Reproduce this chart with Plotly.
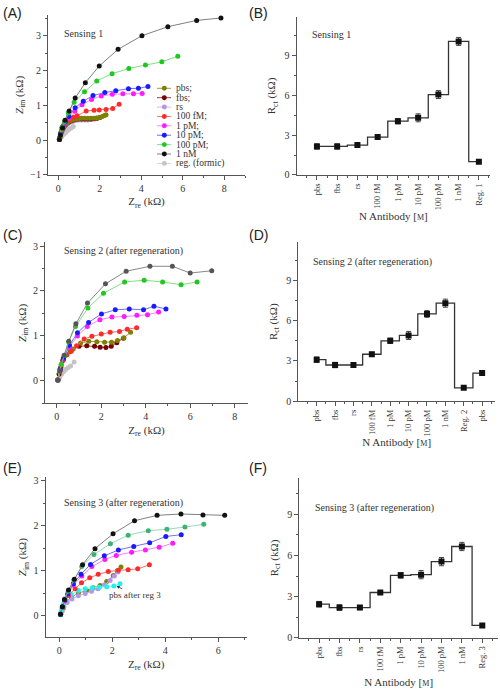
import plotly.graph_objects as go

# ---------------- DATA ----------------
# Panel A (Sensing 1) Nyquist
a_reg_re = [0.05, 0.1, 0.15, 0.2, 0.27, 0.35, 0.43, 0.52, 0.62, 0.72]
a_reg_im = [0.02, 0.06, 0.1, 0.14, 0.18, 0.22, 0.27, 0.31, 0.35, 0.39]
a_rs_re = [0.05, 0.07, 0.1, 0.13, 0.17, 0.22, 0.28, 0.35, 0.43, 0.52, 0.62, 0.73, 0.85, 0.98, 1.12, 1.27, 1.42, 1.57, 1.72, 1.86]
a_rs_im = [0.02, 0.07, 0.13, 0.19, 0.25, 0.31, 0.37, 0.42, 0.46, 0.5, 0.53, 0.55, 0.57, 0.58, 0.58, 0.58, 0.58, 0.59, 0.6, 0.62]
a_fbs_re = [0.05, 0.07, 0.1, 0.13, 0.17, 0.22, 0.28, 0.35, 0.43, 0.52, 0.62, 0.73, 0.85, 0.98, 1.12, 1.27, 1.42, 1.57, 1.72, 1.86, 2.0]
a_fbs_im = [0.02, 0.08, 0.15, 0.22, 0.28, 0.34, 0.4, 0.45, 0.49, 0.53, 0.56, 0.58, 0.6, 0.61, 0.61, 0.61, 0.61, 0.61, 0.62, 0.63, 0.65]
a_pbs_re = [0.05, 0.07, 0.1, 0.13, 0.17, 0.22, 0.28, 0.35, 0.43, 0.52, 0.62, 0.73, 0.85, 0.98, 1.12, 1.27, 1.42, 1.57, 1.72, 1.86, 2.0, 2.12, 2.22, 2.3]
a_pbs_im = [0.02, 0.08, 0.15, 0.22, 0.29, 0.35, 0.41, 0.46, 0.5, 0.54, 0.57, 0.59, 0.61, 0.62, 0.63, 0.63, 0.63, 0.63, 0.63, 0.64, 0.65, 0.68, 0.71, 0.73]
a_100fM_re = [0.05, 0.1, 0.24, 0.48, 0.72, 0.9, 1.34, 1.72, 1.97, 2.3, 2.62, 2.93]
a_100fM_im = [0.02, 0.15, 0.42, 0.57, 0.66, 0.7, 0.84, 0.86, 0.87, 0.88, 0.91, 1.03]
a_1pM_re = [0.05, 0.1, 0.22, 0.34, 0.48, 0.79, 1.14, 1.6, 2.07, 2.6, 3.11, 3.62, 4.04]
a_1pM_im = [0.03, 0.17, 0.38, 0.5, 0.62, 0.83, 1.02, 1.17, 1.27, 1.32, 1.33, 1.33, 1.34]
a_10pM_re = [0.05, 0.1, 0.2, 0.34, 0.5, 0.81, 1.2, 1.67, 2.24, 2.77, 3.38, 3.86, 4.32]
a_10pM_im = [0.03, 0.18, 0.38, 0.52, 0.68, 0.93, 1.12, 1.28, 1.37, 1.42, 1.48, 1.49, 1.54]
a_100pM_re = [0.05, 0.1, 0.16, 0.29, 0.48, 0.76, 1.26, 1.85, 2.59, 3.4, 4.2, 4.99, 5.76]
a_100pM_im = [0.03, 0.15, 0.36, 0.52, 0.78, 1.09, 1.39, 1.7, 1.91, 2.06, 2.16, 2.25, 2.41]
a_1nM_re = [0.05, 0.1, 0.2, 0.32, 0.52, 0.81, 1.3, 1.97, 2.88, 4.03, 5.28, 6.67, 7.84]
a_1nM_im = [0.02, 0.15, 0.35, 0.57, 0.84, 1.21, 1.65, 2.13, 2.61, 3.0, 3.26, 3.44, 3.51]

# Panel C (Sensing 2) Nyquist
c_reg_re = [0.05, 0.1, 0.15, 0.22, 0.3, 0.4, 0.5, 0.62, 0.78]
c_reg_im = [0.02, 0.06, 0.1, 0.15, 0.2, 0.25, 0.29, 0.33, 0.42]
c_pbs_re = [0.05, 0.12, 0.2, 0.3, 0.45, 0.6, 0.74, 1.07, 1.44, 1.8, 2.15, 2.46, 2.73, 3.02, 3.32]
c_pbs_im = [0.02, 0.2, 0.35, 0.48, 0.58, 0.65, 0.71, 0.84, 0.88, 0.87, 0.86, 0.86, 0.9, 0.96, 1.08]
c_fbs_re = [0.05, 0.1, 0.18, 0.27, 0.39, 0.63, 1.0, 1.35, 1.7, 1.95, 2.21, 2.45, 2.7, 3.0]
c_fbs_im = [0.02, 0.15, 0.3, 0.45, 0.57, 0.67, 0.77, 0.78, 0.77, 0.75, 0.74, 0.77, 0.85, 0.95]
c_100fM_re = [0.05, 0.15, 0.3, 0.45, 0.65, 0.89, 1.23, 1.58, 2.0, 2.4, 2.82, 3.17, 3.59]
c_100fM_im = [0.02, 0.25, 0.47, 0.58, 0.66, 0.78, 0.93, 0.99, 1.04, 1.08, 1.1, 1.15, 1.18]
c_1pM_re = [0.05, 0.15, 0.3, 0.56, 0.93, 1.37, 1.94, 2.48, 3.03, 3.6, 4.08, 4.58]
c_1pM_im = [0.02, 0.25, 0.5, 0.75, 1.0, 1.21, 1.36, 1.42, 1.43, 1.46, 1.47, 1.53]
c_10pM_re = [0.05, 0.15, 0.3, 0.57, 0.93, 1.43, 2.01, 2.63, 3.26, 3.9, 4.37, 4.91]
c_10pM_im = [0.02, 0.25, 0.5, 0.79, 1.07, 1.3, 1.49, 1.58, 1.6, 1.58, 1.66, 1.6]
c_100pM_re = [0.05, 0.12, 0.2, 0.35, 0.53, 0.84, 1.4, 2.1, 3.05, 3.93, 4.76, 5.59, 6.31]
c_100pM_im = [0.02, 0.22, 0.37, 0.57, 0.87, 1.21, 1.62, 1.95, 2.2, 2.24, 2.2, 2.14, 2.2]
c_1nM_re = [0.05, 0.15, 0.33, 0.54, 0.86, 1.38, 2.19, 3.12, 4.19, 5.2, 6.0, 6.97]
c_1nM_im = [0.02, 0.22, 0.57, 0.88, 1.27, 1.73, 2.16, 2.44, 2.55, 2.55, 2.4, 2.45]

# Panel E (Sensing 3) Nyquist
e_pbs_re = [0.05, 0.1, 0.16, 0.26, 0.45, 0.72, 1.03, 1.28, 1.54, 1.79, 2.04, 2.19, 2.33]
e_pbs_im = [0.03, 0.1, 0.17, 0.3, 0.41, 0.5, 0.56, 0.62, 0.67, 0.76, 0.89, 1.0, 1.08]
e_rs_re = [0.05, 0.1, 0.18, 0.3, 0.48, 0.72, 0.98, 1.22, 1.46, 1.7, 1.92, 2.08, 2.22]
e_rs_im = [0.03, 0.1, 0.2, 0.29, 0.37, 0.44, 0.49, 0.54, 0.6, 0.68, 0.78, 0.88, 0.97]
e_pbs2_re = [0.05, 0.07, 0.1, 0.15, 0.25, 0.45, 0.72, 0.98, 1.25, 1.51, 1.79, 2.06, 2.29]
e_pbs2_im = [0.02, 0.08, 0.16, 0.25, 0.35, 0.47, 0.56, 0.6, 0.62, 0.63, 0.64, 0.66, 0.71]
e_100fM_re = [0.05, 0.12, 0.22, 0.35, 0.6, 0.84, 1.15, 1.47, 1.85, 2.23, 2.6, 2.96, 3.4]
e_100fM_im = [0.03, 0.18, 0.33, 0.45, 0.6, 0.73, 0.84, 0.92, 0.98, 1.01, 1.02, 1.04, 1.13]
e_1pM_re = [0.05, 0.12, 0.2, 0.33, 0.54, 0.85, 1.23, 1.72, 2.15, 2.73, 3.25, 3.77, 4.28]
e_1pM_im = [0.03, 0.2, 0.34, 0.48, 0.68, 0.88, 1.09, 1.25, 1.34, 1.41, 1.46, 1.52, 1.61]
e_10pM_re = [0.05, 0.12, 0.2, 0.32, 0.53, 0.82, 1.18, 1.7, 2.23, 2.81, 3.41, 4.02, 4.6]
e_10pM_im = [0.03, 0.2, 0.35, 0.48, 0.71, 0.92, 1.14, 1.33, 1.46, 1.54, 1.62, 1.76, 1.8]
e_100pM_re = [0.05, 0.12, 0.2, 0.34, 0.55, 0.85, 1.31, 1.93, 2.6, 3.36, 4.06, 4.74, 5.45]
e_100pM_im = [0.03, 0.2, 0.37, 0.54, 0.79, 1.09, 1.36, 1.6, 1.79, 1.89, 1.92, 1.97, 2.03]
e_1nM_re = [0.05, 0.12, 0.2, 0.35, 0.57, 0.88, 1.35, 2.03, 2.84, 3.69, 4.59, 5.42, 6.24]
e_1nM_im = [0.03, 0.2, 0.36, 0.57, 0.81, 1.13, 1.49, 1.82, 2.11, 2.23, 2.26, 2.24, 2.23]

# Rct step panels
b_labels = ["pbs", "fbs", "rs", "100 fM", "1 pM", "10 pM", "100 pM", "1 nM", "Reg. 1"]
b_rct = [2.15, 2.15, 2.25, 2.85, 4.05, 4.3, 6.05, 10.05, 1.0]
b_err = [0.2, 0.2, 0.15, 0.15, 0.2, 0.3, 0.3, 0.3, 0.05]
d_labels = ["pbs", "fbs", "rs", "100 fM", "1 pM", "10 pM", "100 pM", "1 nM", "Reg. 2", "pbs"]
d_rct = [3.1, 2.7, 2.7, 3.5, 4.5, 4.9, 6.5, 7.3, 1.0, 2.1]
d_err = [0.2, 0.2, 0.1, 0.15, 0.2, 0.3, 0.25, 0.3, 0.05, 0.1]
f_labels = ["pbs", "fbs", "rs", "100 fM", "1 pM", "10 pM", "100 pM", "1 nM", "Reg. 3"]
f_rct = [2.45, 2.2, 2.2, 3.3, 4.55, 4.6, 5.55, 6.65, 0.9]
f_err = [0.2, 0.2, 0.15, 0.1, 0.2, 0.3, 0.3, 0.3, 0.05]

legend_names = ["pbs;", "fbs;", "rs", "100 fM;", "1 pM;", "10 pM;", "100 pM;", "1 nM", "reg. (formic)"]

# ---------------- STYLE ----------------
COL = {
    "pbs": ("#808000", "#9a9a40"), "fbs": ("#7a0000", "#a04040"), "rs": ("#b497e6", "#cbb7ee"),
    "100fM": ("#ff2a2a", "#ff7070"), "1pM": ("#ff1aff", "#ff80ff"), "10pM": ("#1a1aff", "#7070ff"),
    "100pM": ("#1ec81e", "#80e080"), "1nM": ("#111111", "#808080"), "reg": ("#c4c4c4", "#d8d8d8"),
    "1nMc": ("#555555", "#888888"), "100pMe": ("#3cb371", "#9bd9b5"), "cyan": ("#22f0f0", "#8ff5f5"),
}
FONT = "Liberation Serif"
W, H = 500, 689

fig = go.Figure()


def nyq(xs, ys, key, ax, size=5):
    mc, lc = COL[key]
    fig.add_trace(go.Scatter(x=xs, y=ys, mode="lines+markers", xaxis="x" + ax, yaxis="y" + ax,
                             line=dict(color=lc, width=1), marker=dict(color=mc, size=size),
                             showlegend=False, hoverinfo="skip"))


for xs, ys, k in [(a_reg_re, a_reg_im, "reg"), (a_rs_re, a_rs_im, "rs"), (a_fbs_re, a_fbs_im, "fbs"),
                  (a_pbs_re, a_pbs_im, "pbs"), (a_100fM_re, a_100fM_im, "100fM"), (a_1pM_re, a_1pM_im, "1pM"),
                  (a_10pM_re, a_10pM_im, "10pM"), (a_100pM_re, a_100pM_im, "100pM"), (a_1nM_re, a_1nM_im, "1nM")]:
    nyq(xs, ys, k, "")
for xs, ys, k in [(c_reg_re, c_reg_im, "reg"), (c_fbs_re, c_fbs_im, "fbs"), (c_pbs_re, c_pbs_im, "pbs"),
                  (c_100fM_re, c_100fM_im, "100fM"), (c_1pM_re, c_1pM_im, "1pM"), (c_10pM_re, c_10pM_im, "10pM"),
                  (c_100pM_re, c_100pM_im, "100pM"), (c_1nM_re, c_1nM_im, "1nMc")]:
    nyq(xs, ys, k, "3")
for xs, ys, k in [(e_pbs_re, e_pbs_im, "pbs"), (e_rs_re, e_rs_im, "rs"), (e_pbs2_re, e_pbs2_im, "cyan"),
                  (e_100fM_re, e_100fM_im, "100fM"), (e_1pM_re, e_1pM_im, "1pM"), (e_10pM_re, e_10pM_im, "10pM"),
                  (e_100pM_re, e_100pM_im, "100pMe"), (e_1nM_re, e_1nM_im, "1nM")]:
    nyq(xs, ys, k, "5")


def rct(vals, errs, ax):
    fig.add_trace(go.Scatter(x=list(range(len(vals))), y=vals, mode="lines+markers",
                             xaxis="x" + ax, yaxis="y" + ax,
                             line=dict(color="#333333", width=1.3, shape="hvh"),
                             marker=dict(color="#111111", size=6, symbol="square"),
                             error_y=dict(type="data", array=errs, color="#444444", thickness=1, width=2.5),
                             showlegend=False, hoverinfo="skip"))


rct(b_rct, b_err, "2")
rct(d_rct, d_err, "4")
rct(f_rct, f_err, "6")


def dom_x(a, b):
    return [a / W, b / W]


def dom_y(top, bottom):
    return [1 - bottom / H, 1 - top / H]


base = dict(showline=True, linecolor="#555555", linewidth=1.2, ticks="outside", ticklen=4,
            tickcolor="#555555", showgrid=False, zeroline=False, mirror=False,
            tickfont=dict(family=FONT, size=10, color="#333333"), fixedrange=True)


def num_axis(dom, rng, dtick, mdtick, title, standoff, anchor):
    d = dict(base)
    d.update(domain=dom, range=rng, dtick=dtick, tick0=0, anchor=anchor,
             minor=dict(ticks="outside", ticklen=2, tickcolor="#555555", dtick=mdtick, tick0=0),
             title=dict(text=title, font=dict(family=FONT, size=11, color="#333333"), standoff=standoff))
    return d


def cat_axis(dom, rng, labels, title, anchor, standoff):
    d = dict(base)
    d.update(domain=dom, range=rng, tickmode="array", tickvals=list(range(len(labels))), ticktext=labels,
             tickangle=-90, anchor=anchor, tickfont=dict(family=FONT, size=8.5, color="#333333"),
             minor=dict(ticks="outside", ticklen=2, tickcolor="#555555", tickmode="linear", dtick=1, tick0=-0.5),
             title=dict(text=title, font=dict(family=FONT, size=11, color="#333333"), standoff=standoff))
    return d


zre = "Z<sub>re</sub> (kΩ)"
zim = "<i>Z</i><sub>im</sub> (kΩ)"
rct_t = "R<sub>ct</sub> (kΩ)"
nab = "N Antibody [<span style='font-size:8px'>M</span>]"

layout = dict(
    width=W, height=H, margin=dict(l=0, r=0, t=0, b=0), paper_bgcolor="white", plot_bgcolor="white",
    showlegend=False,
    xaxis=num_axis(dom_x(48, 245), [-0.5, 9.0], 2, 1, zre, 4, "y"),
    yaxis=num_axis(dom_y(13, 175), [-1, 3.6], 1, 0.5, zim, 4, "x"),
    xaxis2=cat_axis(dom_x(296.7, 490), [-1, 8.55], b_labels, nab, "y2", 3),
    yaxis2=num_axis(dom_y(15, 175), [0, 11.9], 3, 1.5, rct_t, 6, "x2"),
    xaxis3=num_axis(dom_x(45, 248), [-0.53, 8.6], 2, 1, zre, 4, "y3"),
    yaxis3=num_axis(dom_y(243.3, 406), [-0.5, 3.08], 1, 0.5, zim, 4, "x3"),
    xaxis4=cat_axis(dom_x(298.3, 495), [-1.0, 9.7], d_labels, nab, "y4", 0),
    yaxis4=num_axis(dom_y(243, 404), [0, 11.84], 3, 1.5, rct_t, 6, "x4"),
    xaxis5=num_axis(dom_x(45.7, 246.7), [-0.51, 7.07], 2, 1, zre, 4, "y5"),
    yaxis5=num_axis(dom_y(480.7, 642.7), [-0.48, 3.08], 1, 0.5, zim, 4, "x5"),
    xaxis6=cat_axis(dom_x(299.3, 498), [-0.97, 8.77], f_labels, nab, "y6", 6),
    yaxis6=num_axis(dom_y(481.7, 643.3), [0, 11.63], 3, 1.5, rct_t, 6, "x6"),
)
fig.update_layout(**layout)

ann = []
for txt, px, py in [("(A)", 1, 1), ("(B)", 247, 1), ("(C)", 1, 226), ("(D)", 247, 226), ("(E)", 1, 461), ("(F)", 247, 461)]:
    ann.append(dict(text=txt, x=px / W, y=1 - py / H, xref="paper", yref="paper", xanchor="left", yanchor="top",
                    showarrow=False, font=dict(family="Liberation Sans", size=14, color="#222222")))
tf = dict(family=FONT, size=10, color="#333333")
for txt, ax, x, y in [("Sensing 1", "", 0.18, 3.06), ("Sensing 2 (after regeneration)", "3", 0.22, 2.89),
                      ("Sensing 3 (after regeneration)", "5", 0.09, 2.5), ("Sensing 1", "2", -0.33, 10.6),
                      ("Sensing 2 (after regeneration)", "4", -0.33, 10.4),
                      ("Sensing 3 (after regeneration)", "6", -0.28, 9.47)]:
    ann.append(dict(text=txt, x=x, y=y, xref="x" + ax, yref="y" + ax, xanchor="left", yanchor="middle",
                    showarrow=False, font=tf))
ann.append(dict(text="pbs after reg 3", x=2.16, y=0.66, xref="x5", yref="y5", ax=2.86, ay=0.45,
                axref="x5", ayref="y5", showarrow=True, arrowhead=2, arrowsize=0.8, arrowwidth=0.8,
                arrowcolor="#333333", font=dict(family=FONT, size=9, color="#333333"), xanchor="center",
                yanchor="middle"))

legend_keys = ["pbs", "fbs", "rs", "100fM", "1pM", "10pM", "100pM", "1nM", "reg"]
shapes = []
row0, step = 87.3, 9.5
for i, (nm, k) in enumerate(zip(legend_names, legend_keys)):
    py = row0 + i * step
    mc, lc = COL[k]
    shapes.append(dict(type="line", xref="paper", yref="paper", x0=157 / W, x1=171 / W,
                       y0=1 - py / H, y1=1 - py / H, line=dict(color=lc, width=1)))
    shapes.append(dict(type="circle", xref="paper", yref="paper", x0=161.8 / W, x1=166.8 / W,
                       y0=1 - (py + 2.5) / H, y1=1 - (py - 2.5) / H, fillcolor=mc, line=dict(width=0)))
    ann.append(dict(text=nm, x=173.5 / W, y=1 - py / H, xref="paper", yref="paper", xanchor="left",
                    yanchor="middle", showarrow=False, font=dict(family=FONT, size=9.5, color="#333333")))

fig.update_layout(annotations=ann, shapes=shapes)
fig.write_html("out.html", config={"displayModeBar": False},
               post_script="document.body.style.margin='0';document.body.style.padding='0';")
